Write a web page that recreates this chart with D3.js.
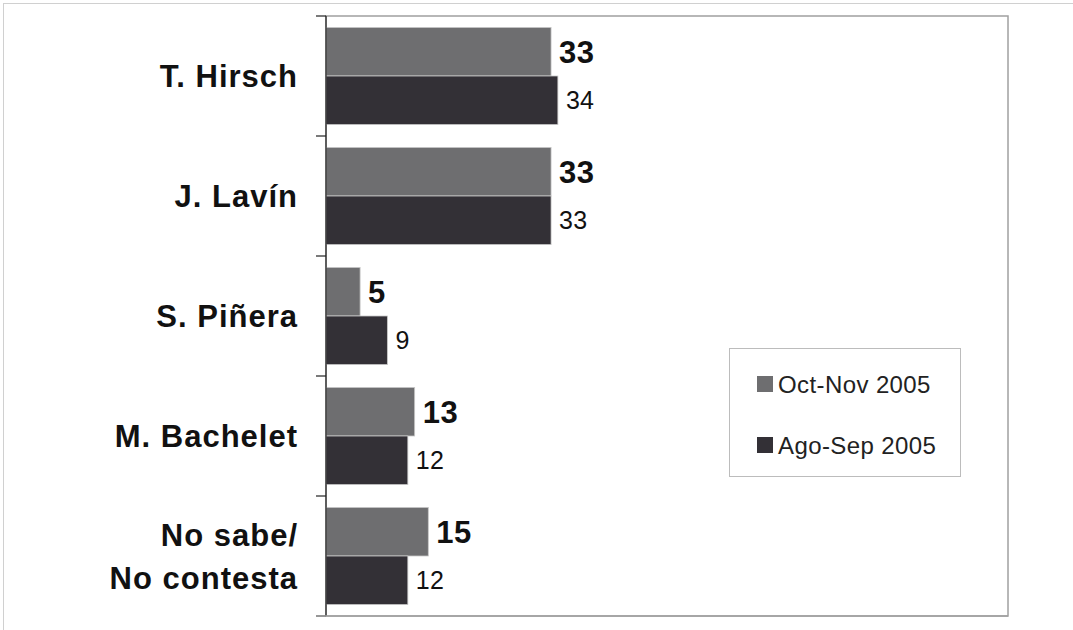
<!DOCTYPE html>
<html><head><meta charset="utf-8">
<script src="https://cdn.jsdelivr.net/npm/d3@7"></script>
<style>body{margin:0;background:#fff}svg{display:block;font-family:"Liberation Sans",Arial,sans-serif}</style>
</head><body><svg id="c" width="1073" height="630"></svg>
<script>
const categories = [["T. Hirsch"],["J. Lavín"],["S. Piñera"],["M. Bachelet"],["No sabe/","No contesta"]];
const seriesNames = ["Oct-Nov 2005","Ago-Sep 2005"];
const octNov = [33,33,5,13,15];
const agoSep = [34,33,9,12,12];
const colors = ["#6e6e70","#333036"];

const svg = d3.select("#c");
svg.append("rect").attr("x",3.5).attr("y",3.5).attr("width",1080).attr("height",640).attr("fill","#fff").attr("stroke","#d0d0d0");
const L=326,T=16,R=1008,B=616;
const x = d3.scaleLinear().domain([0,100]).range([L,R]);
const y = d3.scaleBand().domain(d3.range(categories.length)).range([T,B]).paddingInner(0.19).paddingOuter(0.095);
const sub = d3.scaleBand().domain([0,1]).range([0,y.bandwidth()]);
// plot border
svg.append("rect").attr("x",L).attr("y",T).attr("width",R-L).attr("height",B-T).attr("fill","none").attr("stroke","#a0a0a0").attr("stroke-width",1.5);
// bars
const series=[octNov,agoSep];
series.forEach((vals,si)=>{
  svg.append("g").selectAll("rect").data(vals).join("rect")
    .attr("x",L).attr("y",(d,i)=>y(i)+sub(si)).attr("width",d=>x(d)-L).attr("height",sub.bandwidth())
    .attr("fill",colors[si]).attr("stroke","#c8c8c8").attr("stroke-width",0.8);
  svg.append("g").selectAll("text").data(vals).join("text")
    .attr("x",d=>x(d)+8).attr("y",(d,i)=>y(i)+sub(si)+sub.bandwidth()/2)
    .attr("dy","0.36em").attr("font-size",si===0?31:25).attr("font-weight",si===0?"bold":"normal")
    .attr("letter-spacing",si===0?0.5:0.3)
    .attr("fill","#111").text(d=>d);
});
// y axis
const band = (B-T)/categories.length;
const yAxisG = svg.append("g");
yAxisG.append("line").attr("x1",L).attr("x2",L).attr("y1",T).attr("y2",B).attr("stroke","#222").attr("stroke-width",1.2);
d3.range(categories.length+1).forEach(i=>{
  yAxisG.append("line").attr("x1",L-10).attr("x2",L).attr("y1",T+i*band).attr("y2",T+i*band).attr("stroke","#222").attr("stroke-width",1.2);
});
svg.append("line").attr("x1",L-10).attr("x2",R).attr("y1",B).attr("y2",B).attr("stroke","#a0a0a0").attr("stroke-width",1.5);
categories.forEach((lines,i)=>{
  const cy = y(i)+y.bandwidth()/2;
  const t = svg.append("text").attr("x",298).attr("text-anchor","end").attr("font-size",31).attr("font-weight","bold")
    .attr("letter-spacing",1).attr("fill","#111");
  lines.forEach((ln,j)=>{
    t.append("tspan").attr("x",298).attr("y",cy+(j-(lines.length-1)/2)*43).attr("dy","0.36em").text(ln);
  });
});
// legend
const lg = svg.append("g");
lg.append("rect").attr("x",729.5).attr("y",348.5).attr("width",231).attr("height",128).attr("fill","#fff").attr("stroke","#bcbcbc");
seriesNames.forEach((n,i)=>{
  const ly = 384+i*61;
  lg.append("rect").attr("x",757).attr("y",ly-8).attr("width",16).attr("height",16).attr("fill",colors[i]);
  lg.append("text").attr("x",778).attr("y",ly).attr("dy","0.36em").attr("font-size",24).attr("letter-spacing",0.4).attr("fill","#222").text(n);
});
</script></body></html>
